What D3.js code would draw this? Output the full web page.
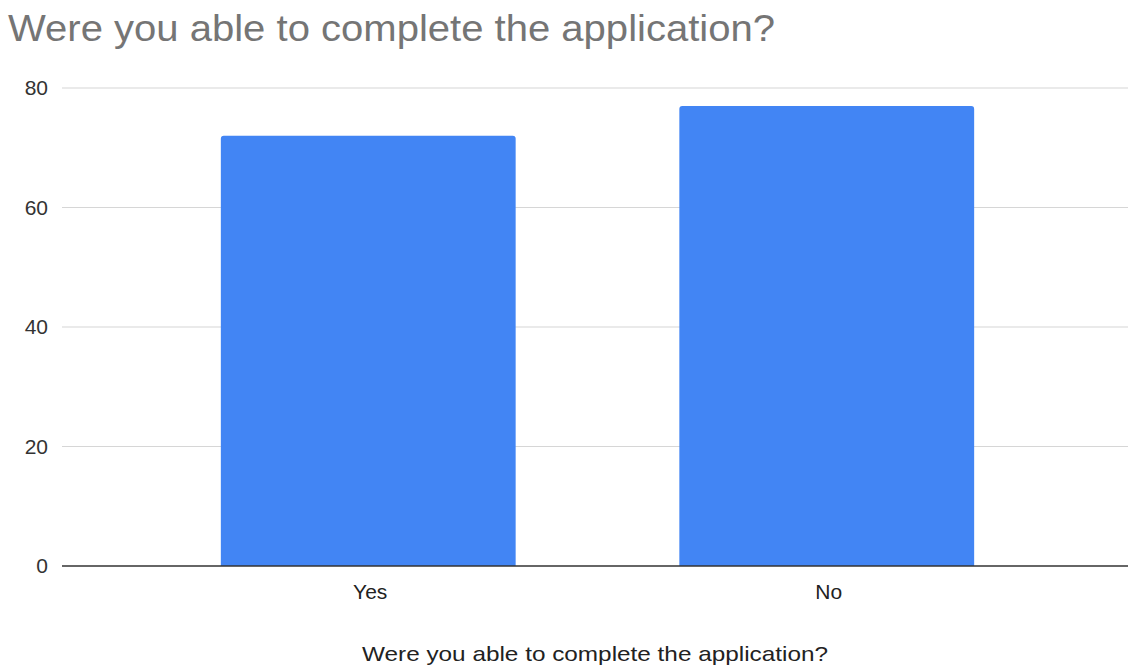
<!DOCTYPE html>
<html>
<head>
    <title>Were you able to complete the application?</title>
    <script src="https://d3js.org/d3.v7.min.js"></script>
    <style>
      body { margin: 0; background: #fff; }
    </style>
</head>
<body>
    <div id="chart"></div>
    <script>

const categories = ["Yes", "No"];
const counts = [72, 77];
const yTicks = [0, 20, 40, 60, 80];

const width = 1128;
const height = 669;
const chartTitle = "Were you able to complete the application?";
const axisTitle = "Were you able to complete the application?";

const svg = d3.create("svg")
    .attr("width", width)
    .attr("height", height)
    .attr("viewBox", [0, 0, width, height])
    .attr("style", "font-family: Arial, 'Liberation Sans', sans-serif;");

const y = d3.scaleLinear()
    .domain([0, 80])
    .range([566, 88]);

const x = d3.scaleBand()
    .domain(categories)
    .range([139, 1056])
    .paddingInner(0.357)
    .paddingOuter(0.1785);

// gridlines
svg.append("g")
    .attr("stroke", "#d6d6d6")
    .attr("stroke-width", 1.2)
  .selectAll("line")
  .data(yTicks.filter(d => d !== 0))
  .join("line")
    .attr("x1", 62)
    .attr("x2", width)
    .attr("y1", d => y(d))
    .attr("y2", d => y(d));

// y tick labels
svg.append("g")
    .attr("font-size", 21)
    .attr("fill", "#333")
    .attr("text-anchor", "end")
  .selectAll("text")
  .data(yTicks)
  .join("text")
    .attr("x", 48)
    .attr("y", d => y(d))
    .attr("dy", "0.35em")
    .text(d => d);

// bars with slightly rounded tops
const r = 3;
svg.append("g")
    .attr("fill", "#4285f4")
  .selectAll("path")
  .data(categories.map((c, i) => ({c, v: counts[i]})))
  .join("path")
    .attr("d", d => {
      const x0 = x(d.c), x1 = x(d.c) + x.bandwidth(), y0 = y(0), y1 = y(d.v);
      return `M${x0},${y0}V${y1 + r}Q${x0},${y1} ${x0 + r},${y1}H${x1 - r}Q${x1},${y1} ${x1},${y1 + r}V${y0}Z`;
    });

// baseline
svg.append("line")
    .attr("x1", 62)
    .attr("x2", width)
    .attr("y1", y(0))
    .attr("y2", y(0))
    .attr("stroke", "#333")
    .attr("stroke-width", 1.5);

// category labels
svg.append("g")
    .attr("font-size", 21)
    .attr("fill", "#222")
    .attr("text-anchor", "middle")
  .selectAll("text")
  .data(categories)
  .join("text")
    .attr("x", d => x(d) + x.bandwidth() / 2 + 2)
    .attr("y", 599)
    .text(d => d);

// x axis title
svg.append("text")
    .attr("x", 595)
    .attr("y", 661)
    .attr("text-anchor", "middle")
    .attr("font-size", 21)
    .attr("textLength", 466)
    .attr("lengthAdjust", "spacingAndGlyphs")
    .attr("fill", "#222")
    .text(axisTitle);

// chart title
svg.append("text")
    .attr("x", 8)
    .attr("y", 41)
    .attr("font-size", 36)
    .attr("textLength", 767)
    .attr("lengthAdjust", "spacingAndGlyphs")
    .attr("fill", "#757575")
    .text(chartTitle);

document.getElementById('chart').appendChild(svg.node());

    </script>
</body>
</html>
